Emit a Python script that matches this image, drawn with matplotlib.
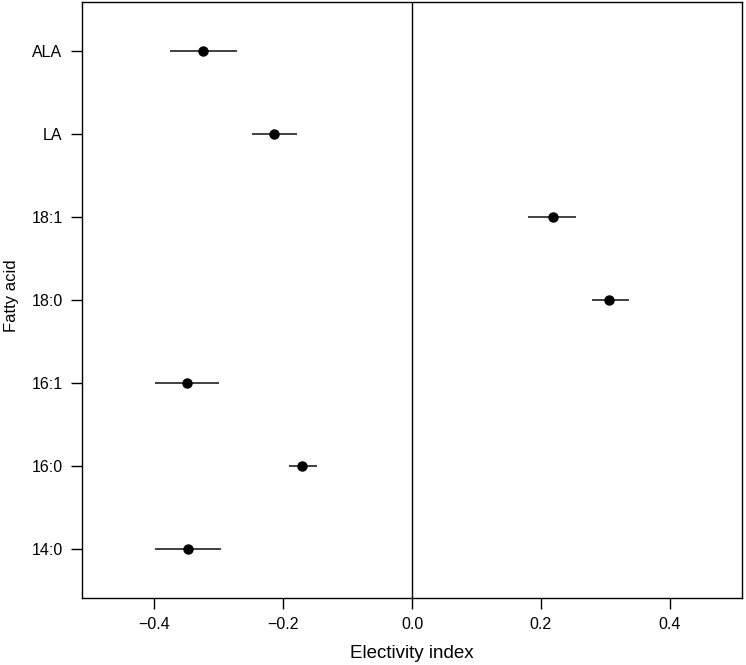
import matplotlib
matplotlib.use("Agg")
import matplotlib.pyplot as plt

acids = ["14:0", "16:0", "16:1", "18:0", "18:1", "LA", "ALA"]
estimate = [-0.3475, -0.170, -0.349, 0.306, 0.2187, -0.2135, -0.325]
lower = [-0.399, -0.191, -0.399, 0.279, 0.180, -0.249, -0.376]
upper = [-0.296, -0.1468, -0.2994, 0.336, 0.254, -0.178, -0.2715]
xticks = [-0.4, -0.2, 0.0, 0.2, 0.4]

plt.rcParams['font.family'] = ['Liberation Sans', 'DejaVu Sans']

fig = plt.figure(figsize=(7.46, 6.65), dpi=100)
ax = fig.add_axes([82/746, 1-598/665, (742-82)/746, (598-2)/665])

ypos = list(range(1, len(acids) + 1))
ax.axvline(0, color='black', lw=1.0, zorder=1)
for y, lo, hi in zip(ypos, lower, upper):
    ax.plot([lo, hi], [y, y], color='#333333', lw=1.3, zorder=2, solid_capstyle='butt')
ax.plot(estimate, ypos, 'o', color='black', markersize=6.5, zorder=3)

ax.set_xlim(-0.512, 0.512)
ax.set_ylim(0.405, 7.595)
ax.set_xticks(xticks)
ax.set_xticklabels([f"{v:.1f}".replace("-", "\u2212") for v in xticks])
ax.set_yticks(ypos)
ax.set_yticklabels(acids)
ax.tick_params(axis='both', direction='out', length=8, width=1, labelsize=11.5, pad=6)
for s in ax.spines.values():
    s.set_linewidth(1.0)
ax.set_xlabel("Electivity index", fontsize=13.5)
ax.set_ylabel("Fatty acid", fontsize=12)
ax.xaxis.set_label_coords((412 - 82) / 660, (598 - 653) / 596)
ax.yaxis.set_label_coords((12 - 82) / 660, (598 - 296) / 596)
ax.xaxis.label.set_va('center')
ax.yaxis.label.set_va('center')

fig.savefig("out.png", dpi=100)
